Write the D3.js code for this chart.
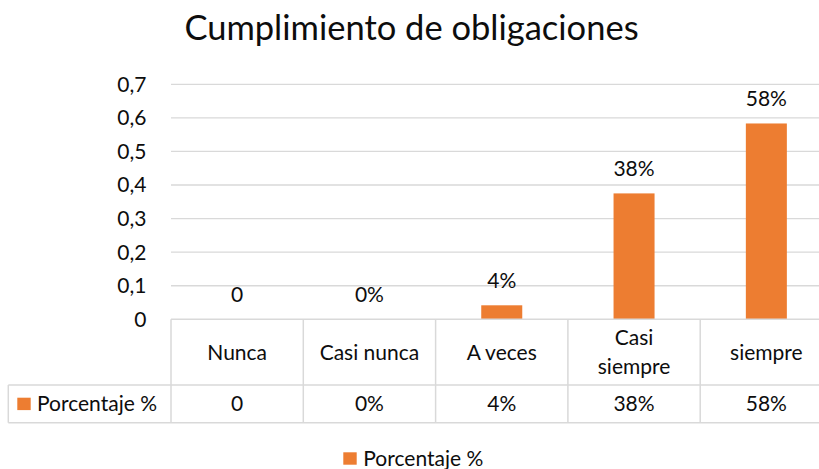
<!DOCTYPE html>
<html>
<head>
<meta charset="utf-8">
<script src="https://cdn.jsdelivr.net/npm/d3@7"></script>
<style>
  html, body { margin: 0; padding: 0; background: #fff; }
  svg { display: block; }
  text { font-family: Lato, "Noto Sans", sans-serif; fill: #0d0d0d; }
</style>
</head>
<body>
<svg id="chart" width="819" height="469"></svg>
<script>
// ---- data ----
const title = "Cumplimiento de obligaciones";
const seriesName = "Porcentaje %";
const categories = ["Nunca", "Casi nunca", "A veces", "Casi siempre", "siempre"];
const headerLines = [["Nunca"], ["Casi nunca"], ["A veces"], ["Casi", "siempre"], ["siempre"]];
const values = [0, 0, 0.0417, 0.375, 0.5833];
const valueLabels = ["0", "0%", "4%", "38%", "58%"];
const yTicks = [0, 0.1, 0.2, 0.3, 0.4, 0.5, 0.6, 0.7];
const yTickLabels = ["0", "0,1", "0,2", "0,3", "0,4", "0,5", "0,6", "0,7"];

// ---- layout ----
const W = 819, H = 469;
const plotLeft = 171, plotRight = 832.5, plotTop = 84.3, plotBottom = 319.3;
const headerBottom = 385, tableBottom = 422.7, legendCellLeft = 8.3;
const orange = "#ED7D31", grid = "#D9D9D9";
const fs = 21;

const svg = d3.select("#chart");

const x = d3.scaleBand().domain(categories).range([plotLeft, plotRight])
  .paddingInner(0.69).paddingOuter(0.345);
const y = d3.scaleLinear().domain([0, 0.7]).range([plotBottom, plotTop]);

// title
svg.append("text").attr("x", 411.5).attr("y", 40).attr("text-anchor", "middle")
  .style("font-size", "34.5px").text(title);

// gridlines
svg.append("g").selectAll("line").data(yTicks.filter(d => d > 0)).join("line")
  .attr("x1", plotLeft).attr("x2", plotRight)
  .attr("y1", d => y(d)).attr("y2", d => y(d))
  .attr("stroke", grid).attr("stroke-width", 1.3);

// y axis labels
svg.append("g").selectAll("text").data(yTicks).join("text")
  .attr("x", 146.5).attr("y", d => y(d)).attr("dy", "0.35em")
  .attr("text-anchor", "end").style("font-size", fs + "px")
  .text((d, i) => yTickLabels[i]);

// bars
svg.append("g").selectAll("rect").data(values).join("rect")
  .attr("x", (d, i) => x(categories[i]))
  .attr("width", x.bandwidth())
  .attr("y", d => y(d))
  .attr("height", d => y(0) - y(d))
  .attr("fill", orange);

// data labels
svg.append("g").selectAll("text").data(values).join("text")
  .attr("x", (d, i) => x(categories[i]) + x.bandwidth() / 2)
  .attr("y", d => y(d) - 24.5).attr("dy", "0.35em")
  .attr("text-anchor", "middle").style("font-size", fs + "px")
  .text((d, i) => valueLabels[i]);

// data table
const tg = svg.append("g");
const step = x.step();
const colEdges = categories.map((c, i) => plotLeft + i * step).concat([plotLeft + categories.length * step]);
// horizontal lines
tg.append("line").attr("x1", plotLeft).attr("x2", plotRight).attr("y1", plotBottom).attr("y2", plotBottom)
  .attr("stroke", grid).attr("stroke-width", 1.5);
tg.append("line").attr("x1", legendCellLeft).attr("x2", plotRight).attr("y1", headerBottom).attr("y2", headerBottom)
  .attr("stroke", grid).attr("stroke-width", 1.5);
tg.append("line").attr("x1", legendCellLeft).attr("x2", plotRight).attr("y1", tableBottom).attr("y2", tableBottom)
  .attr("stroke", grid).attr("stroke-width", 1.5);
// vertical lines
tg.selectAll("line.v").data(colEdges).join("line").attr("class", "v")
  .attr("x1", d => d).attr("x2", d => d).attr("y1", plotBottom).attr("y2", tableBottom)
  .attr("stroke", grid).attr("stroke-width", 1.5);
tg.append("line").attr("x1", legendCellLeft).attr("x2", legendCellLeft).attr("y1", headerBottom).attr("y2", tableBottom)
  .attr("stroke", grid).attr("stroke-width", 1.5);

// header texts
const hy = (plotBottom + headerBottom) / 2;
const lineH = 29;
categories.forEach((c, i) => {
  const lines = headerLines[i];
  const cx = x(c) + x.bandwidth() / 2;
  lines.forEach((t, j) => {
    tg.append("text").attr("x", cx)
      .attr("y", hy + (j - (lines.length - 1) / 2) * lineH).attr("dy", "0.35em")
      .attr("text-anchor", "middle").style("font-size", fs + "px").text(t);
  });
});
// value texts
const vy = (headerBottom + tableBottom) / 2;
tg.selectAll("text.val").data(valueLabels).join("text").attr("class", "val")
  .attr("x", (d, i) => x(categories[i]) + x.bandwidth() / 2)
  .attr("y", vy).attr("dy", "0.35em").attr("text-anchor", "middle")
  .style("font-size", fs + "px").text(d => d);
// legend key in table
tg.append("rect").attr("x", 17.3).attr("y", 397.7).attr("width", 13.4).attr("height", 12.4).attr("fill", orange);
tg.append("text").attr("x", 37).attr("y", vy).attr("dy", "0.35em")
  .style("font-size", fs + "px").text(seriesName);

// bottom legend
const lg = svg.append("g");
lg.append("rect").attr("x", 343.3).attr("y", 452.3).attr("width", 13.4).attr("height", 12.4).attr("fill", orange);
lg.append("text").attr("x", 363.3).attr("y", 466).style("font-size", fs + "px").text(seriesName);
</script>
</body>
</html>
